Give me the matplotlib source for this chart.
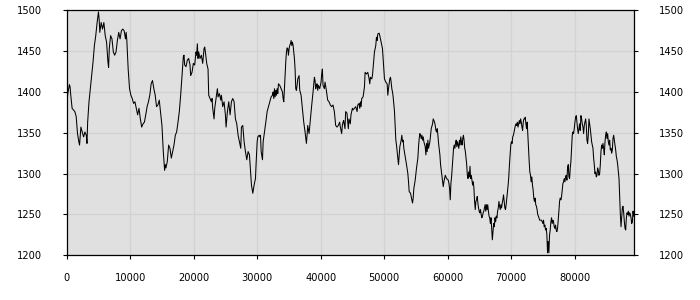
import matplotlib
matplotlib.use('Agg')
import matplotlib.pyplot as plt
import numpy as np

# values, piece by piece from left to right
seg_a_x = [0, 213, 426, 532, 638, 851, 1064, 1277, 1490, 1702, 1915, 2022, 2234, 2447, 2660,
           2873, 3086, 3192, 3298, 3511, 3724, 3937, 4150, 4362, 4575, 4788, 5001, 5107, 5214, 5426,
           5639, 5852, 6065, 6278, 6490, 6597, 6703, 6916, 7129, 7342, 7554, 7767, 7980, 8193, 8406,
           8618, 8831, 9044, 9257, 9363, 9470, 9682, 9895, 10108, 10321, 10534, 10746, 10959, 11172, 11385,
           11598, 11810, 12023, 12236, 12449, 12662, 12874, 13087, 13300, 13513, 13726, 13938, 14151, 14364, 14577,
           14790, 15002]
seg_a_y = [1388, 1400, 1409, 1406, 1396, 1380, 1378, 1376, 1370, 1349, 1339, 1335, 1357, 1351, 1345,
           1351, 1347, 1337, 1363, 1388, 1404, 1420, 1437, 1457, 1469, 1485, 1498, 1489, 1473, 1485,
           1477, 1485, 1469, 1461, 1437, 1430, 1453, 1469, 1465, 1449, 1445, 1449, 1463, 1473, 1465,
           1475, 1477, 1475, 1465, 1473, 1463, 1428, 1404, 1396, 1392, 1386, 1388, 1380, 1372, 1380,
           1367, 1357, 1361, 1363, 1372, 1382, 1388, 1396, 1410, 1414, 1404, 1396, 1382, 1384, 1390,
           1374, 1359]

seg_b_x = [15213, 15424, 15529, 15634, 15845, 16055, 16265, 16476, 16686, 16897, 17107, 17317, 17528, 17738, 17949,
           18159, 18369, 18475, 18580, 18790, 19001, 19211, 19421, 19527, 19737, 19947, 20158, 20368, 20473, 20579,
           20684, 20789, 20999, 21210, 21420, 21631, 21736, 21841, 22051, 22262, 22367, 22577, 22788, 22893, 22998,
           23209, 23314, 23524, 23735, 23840, 24050, 24261, 24366, 24576, 24787, 24997, 25102, 25313, 25523, 25733,
           25944, 26154, 26365, 26575, 26785, 26996, 27206, 27417, 27522, 27732, 27943, 28153, 28363, 28574, 28784,
           28995, 29100, 29310, 29520, 29731, 29836]
seg_b_y = [1327, 1304, 1311, 1307, 1315, 1335, 1331, 1319, 1327, 1335, 1347, 1351, 1363, 1376, 1396,
           1420, 1443, 1445, 1433, 1431, 1439, 1441, 1433, 1420, 1424, 1435, 1433, 1449, 1445, 1459,
           1441, 1449, 1441, 1445, 1435, 1453, 1455, 1449, 1435, 1428, 1396, 1392, 1388, 1392, 1380,
           1367, 1380, 1392, 1404, 1394, 1398, 1390, 1396, 1382, 1388, 1372, 1357, 1376, 1388, 1372,
           1388, 1392, 1388, 1367, 1361, 1347, 1339, 1331, 1357, 1359, 1339, 1327, 1317, 1327, 1323,
           1298, 1286, 1276, 1286, 1294, 1313]

seg_c_x = [30000, 30105, 30314, 30419, 30524, 30629, 30838, 30943, 31153, 31362, 31572, 31782, 31991, 32201, 32410,
           32515, 32620, 32725, 32830, 32934, 33039, 33144, 33249, 33354, 33563, 33773, 33982, 34087, 34192, 34297,
           34402, 34506, 34611, 34716, 34821, 34926, 35030, 35135, 35240, 35345, 35450, 35554, 35659, 35764, 35869,
           35974, 36078, 36183, 36288, 36393, 36602, 36707, 36917, 37126, 37336, 37546, 37755, 37860, 37965, 38174,
           38384, 38594, 38803, 39013, 39118, 39222, 39327, 39432, 39537, 39642, 39851, 40061, 40166, 40270, 40375,
           40585, 40690, 40899, 41109, 41318, 41528, 41738, 41947, 42157, 42366, 42576, 42786, 42995, 43100, 43310,
           43414, 43519, 43624, 43834, 43938, 44148, 44358, 44462, 44672, 44777]
seg_c_y = [1339, 1345, 1347, 1345, 1347, 1327, 1317, 1339, 1351, 1363, 1376, 1382, 1388, 1394, 1396,
           1400, 1392, 1404, 1394, 1402, 1396, 1404, 1398, 1410, 1408, 1404, 1400, 1392, 1388, 1404,
           1420, 1437, 1449, 1454, 1453, 1445, 1453, 1457, 1459, 1463, 1457, 1461, 1457, 1449, 1441,
           1428, 1404, 1402, 1408, 1416, 1420, 1402, 1396, 1380, 1363, 1351, 1337, 1347, 1359, 1349,
           1367, 1384, 1400, 1418, 1414, 1404, 1408, 1410, 1402, 1408, 1404, 1412, 1422, 1428, 1408,
           1404, 1412, 1402, 1390, 1388, 1384, 1382, 1384, 1376, 1359, 1357, 1359, 1363, 1357, 1349,
           1359, 1363, 1365, 1355, 1376, 1374, 1355, 1367, 1361, 1372]

seg_d_x = [45003, 45108, 45319, 45529, 45739, 45845, 46055, 46160, 46265, 46371, 46476, 46686, 46897, 47002, 47212,
           47423, 47633, 47738, 47843, 48054, 48159, 48370, 48475, 48685, 48790, 48895, 49001, 49211, 49316, 49421,
           49632, 49737, 49842, 49947, 50053, 50263, 50473, 50579, 50684, 50789, 50894, 50999, 51105, 51210, 51315,
           51420, 51631, 51736, 51841, 51946, 52051, 52157, 52262, 52367, 52472, 52683, 52788, 52893, 52998, 53103,
           53314, 53524, 53735, 53840, 53945, 54155, 54366, 54471, 54576, 54681, 54892, 55102, 55313, 55418, 55523,
           55628, 55733, 55839, 55944, 56049, 56154, 56259, 56470, 56575, 56680, 56785, 56891, 56996, 57206, 57311,
           57417, 57627, 57732, 57943, 58048, 58153, 58258, 58363, 58469, 58574, 58784, 58889, 58995, 59100, 59310,
           59415, 59520, 59626, 59836]
seg_d_y = [1380, 1378, 1380, 1382, 1376, 1384, 1386, 1380, 1388, 1382, 1392, 1394, 1406, 1424, 1422,
           1424, 1416, 1410, 1418, 1416, 1420, 1439, 1449, 1457, 1467, 1463, 1471, 1472, 1469, 1465,
           1457, 1453, 1441, 1428, 1416, 1412, 1410, 1396, 1404, 1410, 1416, 1418, 1412, 1404, 1400,
           1394, 1376, 1359, 1341, 1335, 1327, 1319, 1311, 1323, 1333, 1341, 1347, 1339, 1341, 1331,
           1321, 1311, 1300, 1290, 1278, 1276, 1268, 1264, 1270, 1282, 1292, 1307, 1319, 1333, 1343,
           1349, 1347, 1343, 1347, 1341, 1345, 1339, 1333, 1323, 1337, 1327, 1341, 1331, 1339, 1347,
           1355, 1361, 1367, 1363, 1359, 1353, 1351, 1355, 1347, 1337, 1323, 1311, 1304, 1298, 1284,
           1290, 1294, 1298, 1294]

seg_e_x = [60104, 60207, 60311, 60414, 60518, 60622, 60725, 60829, 60932, 61036, 61140, 61243, 61347, 61450, 61554,
           61658, 61761, 61865, 61968, 62072, 62176, 62279, 62383, 62486, 62590, 62694, 62797, 62901, 63004, 63108,
           63212, 63315, 63419, 63522, 63626, 63730, 63833, 63937, 64040, 64144, 64248, 64351, 64455, 64558, 64662,
           64766, 64869, 64973, 65076, 65180, 65284, 65387, 65491, 65594, 65698, 65802, 65905, 66009, 66112, 66216,
           66320, 66423, 66527, 66630, 66734, 66838, 66941, 67045, 67148, 67252, 67356, 67459, 67563, 67666, 67770,
           67874, 67977, 68081, 68184, 68288, 68392, 68495, 68599, 68702, 68806, 68910, 69013, 69117, 69220, 69324,
           69428, 69531, 69635, 69738, 69842, 69946, 70049, 70153, 70256, 70360, 70464, 70567, 70671, 70774, 70878,
           70982, 71085, 71189, 71292, 71396, 71500, 71603, 71707, 71810, 71914, 72018, 72121, 72225, 72328, 72432,
           72536, 72639, 72743, 72846, 72950, 73054, 73157, 73261, 73364, 73468, 73572, 73675, 73779, 73882, 73986,
           74090, 74193, 74297, 74504]
seg_e_y = [1292, 1288, 1282, 1268, 1288, 1296, 1307, 1319, 1331, 1335, 1331, 1337, 1341, 1333, 1339,
           1335, 1331, 1341, 1335, 1345, 1339, 1335, 1343, 1347, 1341, 1331, 1327, 1319, 1311, 1298,
           1294, 1302, 1296, 1309, 1294, 1298, 1292, 1286, 1290, 1282, 1266, 1256, 1266, 1268, 1272,
           1264, 1258, 1254, 1252, 1256, 1250, 1246, 1248, 1252, 1254, 1258, 1262, 1254, 1262, 1256,
           1262, 1254, 1248, 1246, 1239, 1246, 1233, 1219, 1229, 1239, 1235, 1246, 1241, 1248, 1246,
           1254, 1258, 1266, 1260, 1256, 1262, 1258, 1264, 1268, 1274, 1266, 1258, 1256, 1262, 1270,
           1278, 1286, 1296, 1311, 1323, 1335, 1339, 1337, 1345, 1347, 1351, 1355, 1359, 1361, 1359,
           1363, 1357, 1361, 1365, 1361, 1367, 1363, 1357, 1353, 1363, 1367, 1367, 1369, 1361, 1355,
           1363, 1347, 1331, 1315, 1302, 1298, 1290, 1296, 1286, 1280, 1270, 1266, 1270, 1262, 1260,
           1256, 1250, 1248, 1243]

seg_f_x = [74793, 74898, 75003, 75108, 75213, 75319, 75424, 75529, 75634, 75739, 75845, 75950, 76055, 76160, 76265,
           76371, 76476, 76581, 76686, 76791, 76897, 77002, 77107, 77212, 77317, 77423, 77528, 77633, 77738, 77843,
           77949, 78054, 78159, 78264, 78369, 78475, 78580, 78685, 78790, 78895, 79001, 79106, 79211, 79316, 79421,
           79527, 79632, 79737, 79842, 79947, 80053, 80158, 80263, 80368, 80473, 80579, 80684, 80789, 80894, 80999,
           81105, 81210, 81315, 81420, 81525, 81631, 81736, 81841, 81946, 82051, 82157, 82262, 82367, 82472, 82577,
           82683, 82788, 82893, 82998, 83103, 83209, 83314, 83419, 83524, 83629, 83735, 83840, 83945, 84050, 84155,
           84261, 84366, 84471, 84576, 84681, 84787, 84892, 84997, 85102, 85207, 85313, 85418, 85523, 85628, 85733,
           85839, 85944, 86049, 86154, 86259, 86365, 86470, 86575, 86680, 86785, 86891, 86996, 87101, 87206, 87311,
           87417, 87522, 87627, 87732, 87837, 87943, 88048, 88153, 88258, 88363, 88469, 88574, 88679, 88784, 88889,
           88995, 89100, 89205, 89310]
seg_f_y = [1243, 1241, 1239, 1243, 1235, 1237, 1231, 1233, 1225, 1203, 1217, 1203, 1225, 1231, 1241,
           1246, 1239, 1243, 1241, 1235, 1233, 1237, 1231, 1229, 1233, 1243, 1254, 1266, 1270, 1268,
           1272, 1280, 1288, 1290, 1294, 1290, 1296, 1298, 1292, 1307, 1311, 1296, 1294, 1307, 1315,
           1331, 1347, 1351, 1349, 1355, 1363, 1369, 1371, 1363, 1355, 1349, 1355, 1361, 1353, 1371,
           1367, 1361, 1357, 1349, 1359, 1363, 1367, 1359, 1341, 1337, 1347, 1367, 1361, 1355, 1347,
           1339, 1335, 1331, 1319, 1311, 1300, 1302, 1296, 1298, 1307, 1304, 1298, 1300, 1311, 1327,
           1335, 1331, 1337, 1331, 1323, 1339, 1347, 1351, 1343, 1349, 1339, 1335, 1341, 1329, 1331,
           1325, 1329, 1343, 1347, 1341, 1335, 1329, 1321, 1317, 1311, 1302, 1294, 1270, 1250, 1235,
           1246, 1258, 1260, 1252, 1241, 1233, 1231, 1246, 1252, 1250, 1254, 1248, 1252, 1250, 1246,
           1239, 1241, 1254, 1248]

x_ticks = [0, 10000, 20000, 30000, 40000, 50000, 60000, 70000, 80000]
y_ticks = [1200, 1250, 1300, 1350, 1400, 1450, 1500]

xs = np.concatenate([seg_a_x, seg_b_x, seg_c_x, seg_d_x, seg_e_x, seg_f_x])
ys = np.concatenate([seg_a_y, seg_b_y, seg_c_y, seg_d_y, seg_e_y, seg_f_y])

fig = plt.figure(figsize=(7, 3), dpi=100)
ax = fig.add_axes([0.0953, 0.149, 0.8108, 0.8167])
ax.set_facecolor('#e0e0e0')

ax.plot(xs, ys, color='black', linewidth=0.75)

ax.set_xlim(0, 89400)
ax.set_ylim(1200, 1500)
ax.set_xticks(x_ticks)
ax.set_yticks(y_ticks)
ax.grid(True, color='#d2d2d2', linewidth=0.9)
ax.set_axisbelow(True)

for s in ax.spines.values():
    s.set_color('black')
    s.set_linewidth(0.9)

ax.tick_params(axis='y', left=True, right=True, labelleft=True, labelright=True,
               length=3, width=0.8, pad=15, labelsize=7.1)
ax.tick_params(axis='x', length=3, width=0.8, pad=10, labelsize=7.1)

plt.savefig('out.png', dpi=100)
